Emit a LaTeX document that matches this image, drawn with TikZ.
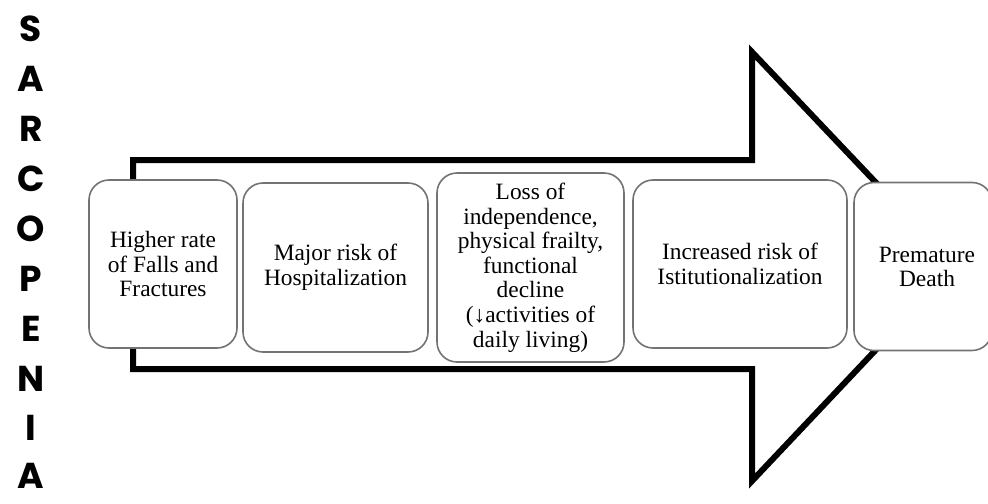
\documentclass[tikz,border=0pt]{standalone}
\usepackage{fontspec}
\setmainfont{Liberation Serif}
\newfontfamily\letterfont{Poppins}
\begin{document}
\begin{tikzpicture}[x=0.5pt,y=-0.5pt,
  bigarrow/.style={draw=black,line width=3pt,line join=miter,fill=white},
  stagebox/.style={draw=black!55,line width=0.8pt,fill=white,rounded corners=10pt,
    align=center,inner sep=0pt,font=\fontsize{11.7}{12.3}\selectfont},
  letter/.style={font=\letterfont\bfseries\fontsize{18}{20}\selectfont,inner sep=0pt}]
\useasboundingbox (0,0) rectangle (988,503);
\clip (0,0) rectangle (988,503);
% big arrow
\draw[bigarrow] (133,160) -- (752,160) -- (752,52) -- (955,266) -- (752,481)
  -- (752,369) -- (133,369) -- cycle;
% stage boxes
\node[stagebox,minimum width=74pt,minimum height=84pt] (b1) at (163,264)
  {Higher rate\\of Falls and\\Fractures};
\node[stagebox,minimum width=92.5pt,minimum height=84.5pt] (b2) at (335.5,267.5)
  {Major risk of\\Hospitalization};
\node[stagebox,minimum width=93.5pt,minimum height=94.5pt] (b3) at (530.5,267.5)
  {Loss of\\independence,\\physical frailty,\\functional\\decline\\(↓activities of\\daily living)};
\node[stagebox,minimum width=107pt,minimum height=84pt] (b4) at (740,264)
  {Increased risk of\\Istitutionalization};
\node[stagebox,minimum width=69pt,minimum height=84pt] (b5) at (923,266.5) {};
\node[align=center,inner sep=0pt,font=\fontsize{11.7}{12.3}\selectfont] (t5) at (927,267)
  {Premature\\Death};
% vertical word
\node[letter] (l1) at (31,29) {S};
\node[letter] (l2) at (31,79) {A};
\node[letter] (l3) at (31,129) {R};
\node[letter] (l4) at (31,179) {C};
\node[letter] (l5) at (31,229) {O};
\node[letter] (l6) at (31,279) {P};
\node[letter] (l7) at (31,329) {E};
\node[letter] (l8) at (31,379) {N};
\node[letter] (l9) at (31,428) {I};
\node[letter] (l10) at (31,476) {A};
\end{tikzpicture}
\end{document}
